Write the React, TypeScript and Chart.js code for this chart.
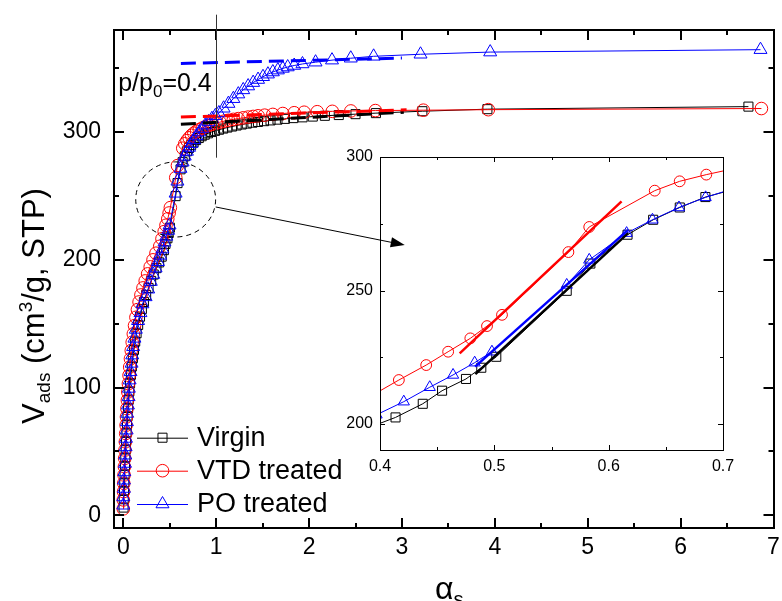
import React, { useEffect, useRef } from 'react';
import { Chart, registerables } from 'chart.js';

Chart.register(...registerables);

const FONT = "'Liberation Sans', Arial, Helvetica, sans-serif";

// ---- Virgin (black squares) ----
const virginAlpha = [
  0.003, 0.005, 0.008, 0.011, 0.014, 0.018, 0.022, 0.026, 0.03, 0.035,
  0.04, 0.046, 0.052, 0.058, 0.065, 0.073, 0.082, 0.092, 0.103, 0.115,
  0.128, 0.143, 0.16, 0.18, 0.2, 0.222, 0.246, 0.272, 0.3, 0.328,
  0.357, 0.386,
  0.4136, 0.4374, 0.4543, 0.4752, 0.4886, 0.5017, 0.5633, 0.584, 0.6165, 0.6389, 0.6622, 0.6846,
  0.707, 0.731, 0.757, 0.784, 0.813, 0.844, 0.877, 0.912, 0.949, 0.988,
  1.03, 1.075, 1.12, 1.17, 1.22, 1.275, 1.33, 1.39, 1.45, 1.515,
  1.585, 1.66, 1.74, 1.83, 1.93, 2.04, 2.17, 2.32, 2.5, 2.72,
  3.22, 3.92, 6.73,
];
const virginV = [
  6, 12.5, 19, 25.5, 32, 38.5, 45, 51.5, 58, 64.5,
  71, 77.5, 84, 90.5, 97, 103.5, 110, 116.5, 123, 129.5,
  136, 142.5, 149, 155.5, 161.5, 167, 172.5, 178, 183.5, 188.5,
  193.5, 198,
  202.5, 207.6, 212.5, 216.9, 221.1, 225.2, 249.9, 260.1, 270.9, 276.5, 281.1, 285.0,
  287.6, 289.9, 292, 293.8, 295.4, 296.8, 298, 299.1, 300.1, 301,
  301.9, 302.8, 303.6, 304.4, 305.2, 306, 306.7, 307.4, 308, 308.6,
  309.2, 309.8, 310.4, 311, 311.6, 312.2, 312.8, 313.4, 314.1, 314.9,
  316.4, 318, 320,
];

// ---- VTD treated (red circles) ----
const vtdAlpha = [
  0, 0, 0.003, 0.005, 0.008, 0.012, 0.015, 0.018, 0.022, 0.026,
  0.03, 0.034, 0.039, 0.044, 0.049, 0.055, 0.062, 0.069, 0.077, 0.086,
  0.096, 0.108, 0.121, 0.136, 0.152, 0.17, 0.19, 0.212, 0.236, 0.262,
  0.29, 0.32, 0.352, 0.3925, 0.4165, 0.4404, 0.4596, 0.479, 0.4936, 0.5067,
  0.5648, 0.583, 0.6403, 0.6621, 0.6854, 0.709, 0.734, 0.76, 0.788, 0.818,
  0.85, 0.884, 0.92, 0.958, 0.998, 1.04, 1.085, 1.132, 1.185, 1.238,
  1.291, 1.344, 1.398, 1.451, 1.522, 1.61, 1.717, 1.84, 1.947, 2.088,
  2.25, 2.45, 2.714, 3.23, 3.93, 6.87,
];
const vtdV = [
  5, 12, 18.5, 25, 31.5, 38, 44.5, 51, 57.5, 64,
  70.5, 77, 83.5, 90, 96.5, 103, 109.5, 116, 122.5, 129,
  135.5, 142, 148.5, 155, 161, 167, 172.5, 178, 183.5, 189,
  194.5, 200, 205.2, 210.6, 216.5, 222.1, 227.1, 232.1, 236.7, 240.9,
  264.4, 273.8, 287.4, 290.9, 293.4, 295.6, 297.5, 299.2, 300.7, 302,
  303.2, 304.3, 305.3, 306.2, 307, 307.8, 308.6, 309.3, 310, 310.6,
  311.2, 311.8, 312.3, 312.8, 313.3, 313.9, 314.6, 315.2, 315.6, 316,
  316.3, 316.6, 316.9, 317.2, 317.6, 318.5,
];

// ---- PO treated (blue triangles) ----
const poAlpha = [
  0, 0, 0.007, 0.007, 0.011, 0.018, 0.021, 0.025, 0.029, 0.036,
  0.039, 0.042, 0.05, 0.057, 0.06, 0.068, 0.078, 0.089, 0.096, 0.106,
  0.12, 0.135, 0.159, 0.185, 0.206, 0.24, 0.268, 0.296, 0.322, 0.348,
  0.373, 0.397, 0.4208, 0.4435, 0.4639, 0.4828, 0.4979, 0.5633, 0.583, 0.6157,
  0.6383, 0.6615, 0.6848, 0.708, 0.733, 0.76, 0.788, 0.818, 0.85, 0.883,
  0.918, 0.954, 0.991, 1.029, 1.08, 1.132, 1.185, 1.238, 1.291, 1.344,
  1.398, 1.451, 1.504, 1.557, 1.61, 1.664, 1.717, 1.77, 1.84, 1.929,
  2.07, 2.247, 2.449, 2.695, 3.2, 3.95, 6.86,
];
const poV = [
  7.8, 14.3, 20.9, 27.4, 33.9, 40.5, 47.0, 53.5, 60.1, 66.6,
  73.1, 79.7, 86.2, 92.7, 99.3, 105.8, 112.3, 118.9, 125.4, 131.9,
  138.5, 145.5, 152.3, 158.5, 165.4, 171, 177, 183, 188.5, 193.5,
  198.5, 203.5, 208.4, 213.8, 218.4, 223.0, 227.1, 252.1, 261.5, 271.5,
  276.5, 281.1, 284.9, 288, 291, 294, 297, 300, 302.8, 305.5,
  308, 310.5, 312.8, 315, 318.7, 322.4, 326.2, 329.8, 333.1, 336.1,
  338.8, 341.2, 343.4, 345.4, 347.1, 348.6, 349.9, 351, 352.2, 353.4,
  354.8, 356.4, 357.9, 359.4, 361, 362.7, 364.6,
];

// ---- linear fits shown in the inset ----
const virginFitAlpha = [0.4834, 0.617];
const virginFitV = [218.7, 271.5];
const vtdFitAlpha = [0.4697, 0.6113];
const vtdFitV = [226.5, 283.4];
const poFitAlpha = [0.4832, 0.617];
const poFitV = [221.5, 272.7];

// ---- plateau extrapolations (dashed) ----
const virginPlateauAlpha = [0.62, 3.02];
const virginPlateauV = [306.2, 315.6];
const vtdPlateauAlpha = [0.62, 3.05];
const vtdPlateauV = [311.8, 317.5];
const poPlateauAlpha = [0.62, 3.0];
const poPlateauV = [353.8, 358.0];

// ---- ticks ----
const xTicks = [0, 1, 2, 3, 4, 5, 6, 7];
const xMinorTicks = [0.5, 1.5, 2.5, 3.5, 4.5, 5.5, 6.5];
const yTicks = [0, 100, 200, 300];
const yMinorTicks = [50, 150, 250, 350];
const insetXTicks = [0.4, 0.5, 0.6, 0.7];
const insetXMinorTicks = [0.45, 0.55, 0.65];
const insetYTicks = [200, 250, 300];
const insetYMinorTicks = [225, 275];

const seriesLabels = ['Virgin', 'VTD treated', 'PO treated'];
const seriesColors = ['#000000', '#ff0000', '#0000ff'];
const seriesStyles = ['rect', 'circle', 'triangle'];

// reference annotations (data coordinates)
const refLineAlpha = 1;
const refLineV = [280, 392];

const pts = (xs: number[], ys: number[]) => xs.map((x, i) => ({ x, y: ys[i] }));

function drawMarker(ctx: CanvasRenderingContext2D, style: string, x: number, y: number, r: number) {
  ctx.beginPath();
  if (style === 'rect') {
    const s = r * Math.SQRT1_2;
    ctx.rect(x - s, y - s, 2 * s, 2 * s);
  } else if (style === 'circle') {
    ctx.arc(x, y, r, 0, Math.PI * 2);
  } else {
    for (let k = 0; k < 3; k++) {
      const a = -Math.PI / 2 + (k * 2 * Math.PI) / 3;
      const px = x + Math.cos(a) * r;
      const py = y + Math.sin(a) * r;
      if (k === 0) ctx.moveTo(px, py);
      else ctx.lineTo(px, py);
    }
    ctx.closePath();
  }
  ctx.stroke();
}

function drawFrame(
  chart: any,
  xMaj: number[], xMin: number[], yMaj: number[], yMin: number[],
  majLen: number, minLen: number, lw: number,
) {
  const ctx: CanvasRenderingContext2D = chart.ctx;
  const { left, right, top, bottom } = chart.chartArea;
  const xs = chart.scales.x;
  const ys = chart.scales.y;
  const off = lw % 2 === 1 ? 0.5 : 0;
  ctx.save();
  ctx.strokeStyle = '#000';
  ctx.lineWidth = lw;
  ctx.beginPath();
  const xt = (vals: number[], len: number) => {
    vals.forEach((v) => {
      const p = Math.round(xs.getPixelForValue(v)) + off;
      ctx.moveTo(p, bottom);
      ctx.lineTo(p, bottom - len);
      ctx.moveTo(p, top);
      ctx.lineTo(p, top + len);
    });
  };
  const yt = (vals: number[], len: number) => {
    vals.forEach((v) => {
      const p = Math.round(ys.getPixelForValue(v)) + off;
      ctx.moveTo(left, p);
      ctx.lineTo(left + len, p);
      ctx.moveTo(right, p);
      ctx.lineTo(right - len, p);
    });
  };
  xt(xMaj, majLen);
  xt(xMin, minLen);
  yt(yMaj, majLen);
  yt(yMin, minLen);
  ctx.stroke();
  ctx.strokeRect(Math.round(left) + off, Math.round(top) + off, Math.round(right - left), Math.round(bottom - top));
  ctx.restore();
}

function drawRich(ctx: CanvasRenderingContext2D, parts: { t: string; s: number; dy: number }[], x: number, y: number, center: boolean) {
  let total = 0;
  parts.forEach((p) => {
    ctx.font = `${p.s}px ${FONT}`;
    total += ctx.measureText(p.t).width;
  });
  let cx = center ? x - total / 2 : x;
  parts.forEach((p) => {
    ctx.font = `${p.s}px ${FONT}`;
    ctx.fillText(p.t, cx, y + p.dy);
    cx += ctx.measureText(p.t).width;
  });
}

const mainDecor = {
  id: 'mainDecor',
  afterDraw(chart: any) {
    const ctx: CanvasRenderingContext2D = chart.ctx;
    const xs = chart.scales.x;
    const ys = chart.scales.y;
    const ca = chart.chartArea;
    drawFrame(chart, xTicks, xMinorTicks, yTicks, yMinorTicks, 10, 5, 2);

    ctx.save();
    // vertical reference line at alpha_s = 1 (p/p0 = 0.4)
    const rx = Math.round(xs.getPixelForValue(refLineAlpha)) + 0.5;
    ctx.strokeStyle = '#333';
    ctx.lineWidth = 1;
    ctx.beginPath();
    ctx.moveTo(rx, ys.getPixelForValue(refLineV[1]));
    ctx.lineTo(rx, ys.getPixelForValue(refLineV[0]));
    ctx.stroke();

    // p/p0=0.4 label
    ctx.fillStyle = '#000';
    ctx.textBaseline = 'alphabetic';
    ctx.textAlign = 'left';
    drawRich(ctx, [
      { t: 'p/p', s: 25, dy: 0 },
      { t: '0', s: 17, dy: 6 },
      { t: '=0.4', s: 25, dy: 0 },
    ], xs.getPixelForValue(-0.055), ys.getPixelForValue(332), false);

    // dashed zoom ellipse
    const ex = xs.getPixelForValue(0.564);
    const ey = ys.getPixelForValue(247.3);
    const erx = xs.getPixelForValue(0.564 + 0.43) - ex;
    const ery = ey - ys.getPixelForValue(247.3 + 29.4);
    ctx.setLineDash([5, 4]);
    ctx.strokeStyle = '#000';
    ctx.lineWidth = 1;
    ctx.beginPath();
    ctx.ellipse(ex, ey, erx, ery, 0, 0, Math.PI * 2);
    ctx.stroke();
    ctx.setLineDash([]);

    // arrow to inset
    const ax1 = xs.getPixelForValue(0.995);
    const ay1 = ys.getPixelForValue(241.4);
    const ax2 = xs.getPixelForValue(3.03);
    const ay2 = ys.getPixelForValue(211.6);
    const ang = Math.atan2(ay2 - ay1, ax2 - ax1);
    const hl = 14;
    const hw = 5;
    const bx = ax2 - Math.cos(ang) * hl;
    const by = ay2 - Math.sin(ang) * hl;
    ctx.beginPath();
    ctx.moveTo(ax1, ay1);
    ctx.lineTo(bx, by);
    ctx.stroke();
    ctx.beginPath();
    ctx.moveTo(ax2, ay2);
    ctx.lineTo(bx - Math.sin(ang) * hw, by + Math.cos(ang) * hw);
    ctx.lineTo(bx + Math.sin(ang) * hw, by - Math.cos(ang) * hw);
    ctx.closePath();
    ctx.fillStyle = '#000';
    ctx.fill();

    // legend
    const rows = [ca.bottom - 90.3, ca.bottom - 57.3, ca.bottom - 24];
    const radii = [6.4, 6.3, 7.5];
    rows.forEach((ry, i) => {
      ctx.strokeStyle = seriesColors[i];
      ctx.lineWidth = 1;
      ctx.beginPath();
      ctx.moveTo(ca.left + 23, ry + 0.5);
      ctx.lineTo(ca.left + 74, ry + 0.5);
      ctx.stroke();
      drawMarker(ctx, seriesStyles[i], ca.left + 48.5, ry, radii[i]);
      ctx.fillStyle = '#000';
      ctx.font = `27px ${FONT}`;
      ctx.textBaseline = 'middle';
      ctx.fillText(seriesLabels[i], ca.left + 83, ry + 1);
    });

    // y axis title
    ctx.save();
    ctx.translate(44, 306);
    ctx.rotate(-Math.PI / 2);
    ctx.textBaseline = 'alphabetic';
    ctx.fillStyle = '#000';
    drawRich(ctx, [
      { t: 'V', s: 31, dy: 0 },
      { t: 'ads', s: 19, dy: 6 },
      { t: ' (cm', s: 31, dy: 0 },
      { t: '3', s: 19, dy: -12 },
      { t: '/g, STP)', s: 31, dy: 0 },
    ], 0, 0, true);
    ctx.restore();

    // x axis title
    ctx.textBaseline = 'alphabetic';
    ctx.fillStyle = '#000';
    drawRich(ctx, [
      { t: 'α', s: 32, dy: 0 },
      { t: 's', s: 20, dy: 7 },
    ], 435, 599, false);

    ctx.restore();
  },
};

const insetDecor = {
  id: 'insetDecor',
  afterDraw(chart: any) {
    drawFrame(chart, insetXTicks, insetXMinorTicks, insetYTicks, insetYMinorTicks, 5, 3, 1);
  },
};

function seriesDataset(i: number, xs: number[], ys: number[], r: number) {
  return {
    label: seriesLabels[i],
    data: pts(xs, ys),
    showLine: true,
    borderColor: seriesColors[i],
    borderWidth: 1,
    backgroundColor: 'rgba(0,0,0,0)',
    pointStyle: seriesStyles[i],
    pointRadius: r,
    pointBorderColor: seriesColors[i],
    pointBackgroundColor: 'rgba(0,0,0,0)',
    pointBorderWidth: 1,
  };
}

function lineDataset(color: string, xs: number[], ys: number[], width: number, dash: number[]) {
  return {
    data: pts(xs, ys),
    showLine: true,
    borderColor: color,
    borderWidth: width,
    borderDash: dash,
    pointRadius: 0,
    backgroundColor: 'rgba(0,0,0,0)',
  };
}

export default function App() {
  const mainRef = useRef<HTMLCanvasElement>(null);
  const insetRef = useRef<HTMLCanvasElement>(null);

  useEffect(() => {
    const main = new Chart(mainRef.current as HTMLCanvasElement, {
      type: 'scatter',
      data: {
        datasets: [
          lineDataset('#0000ff', poPlateauAlpha, poPlateauV, 3, [15, 7]),
          lineDataset('#ff0000', vtdPlateauAlpha, vtdPlateauV, 3, [15, 7]),
          lineDataset('#000000', virginPlateauAlpha, virginPlateauV, 3, [15, 7]),
          seriesDataset(2, poAlpha, poV, 7.5),
          seriesDataset(1, vtdAlpha, vtdV, 6.3),
          seriesDataset(0, virginAlpha, virginV, 6.4),
        ] as any,
      },
      options: {
        responsive: false,
        animation: false,
        devicePixelRatio: 1,
        events: [],
        layout: { padding: { top: 30, right: 1, left: 0, bottom: 0 } },
        plugins: { legend: { display: false }, tooltip: { enabled: false } },
        scales: {
          x: {
            type: 'linear',
            min: -0.1,
            max: 7,
            afterBuildTicks: (s: any) => { s.ticks = xTicks.map((v) => ({ value: v })); },
            afterFit: (s: any) => { s.height = 73; s.paddingLeft = 0; s.paddingRight = 0; },
            grid: { display: false, drawTicks: false },
            border: { display: false },
            ticks: {
              autoSkip: false,
              maxRotation: 0,
              padding: 6,
              color: '#000',
              font: { family: FONT, size: 23 },
              callback: (v: any) => String(v),
            },
          },
          y: {
            type: 'linear',
            min: -10,
            max: 380,
            afterBuildTicks: (s: any) => { s.ticks = yTicks.map((v) => ({ value: v })); },
            afterFit: (s: any) => { s.width = 114; s.paddingTop = 0; s.paddingBottom = 0; },
            grid: { display: false, drawTicks: false },
            border: { display: false },
            ticks: {
              autoSkip: false,
              padding: 13,
              color: '#000',
              font: { family: FONT, size: 23 },
              callback: (v: any) => String(v),
            },
          },
        },
      } as any,
      plugins: [mainDecor],
    });

    const inset = new Chart(insetRef.current as HTMLCanvasElement, {
      type: 'scatter',
      data: {
        datasets: [
          lineDataset('#ff0000', vtdFitAlpha, vtdFitV, 2.5, []),
          lineDataset('#0000ff', poFitAlpha, poFitV, 2.5, []),
          lineDataset('#000000', virginFitAlpha, virginFitV, 2.5, []),
          seriesDataset(2, poAlpha, poV, 6.5),
          seriesDataset(1, vtdAlpha, vtdV, 5.4),
          seriesDataset(0, virginAlpha, virginV, 6.4),
        ] as any,
      },
      options: {
        responsive: false,
        animation: false,
        devicePixelRatio: 1,
        events: [],
        layout: { padding: { top: 17, right: 27, left: 0, bottom: 0 } },
        plugins: { legend: { display: false }, tooltip: { enabled: false } },
        scales: {
          x: {
            type: 'linear',
            min: 0.4,
            max: 0.7,
            afterBuildTicks: (s: any) => { s.ticks = insetXTicks.map((v) => ({ value: v })); },
            afterFit: (s: any) => { s.height = 30; s.paddingLeft = 0; s.paddingRight = 0; },
            grid: { display: false, drawTicks: false },
            border: { display: false },
            ticks: {
              autoSkip: false,
              maxRotation: 0,
              padding: 7,
              color: '#000',
              font: { family: FONT, size: 16 },
              callback: (v: any) => Number(v).toFixed(1),
            },
          },
          y: {
            type: 'linear',
            min: 190.3,
            max: 300,
            afterBuildTicks: (s: any) => { s.ticks = insetYTicks.map((v) => ({ value: v })); },
            afterFit: (s: any) => { s.width = 50; s.paddingTop = 0; s.paddingBottom = 0; },
            grid: { display: false, drawTicks: false },
            border: { display: false },
            ticks: {
              autoSkip: false,
              padding: 7,
              color: '#000',
              font: { family: FONT, size: 16 },
              callback: (v: any) => String(v),
            },
          },
        },
      } as any,
      plugins: [insetDecor],
    });

    return () => {
      main.destroy();
      inset.destroy();
    };
  }, []);

  return (
    <div style={{ position: 'fixed', left: 0, top: 0, width: 782, height: 601, background: '#ffffff', overflow: 'hidden' }}>
      <canvas ref={mainRef} width={782} height={601} style={{ position: 'absolute', left: 0, top: 0, width: 782, height: 601 }} />
      <canvas ref={insetRef} width={420} height={340} style={{ position: 'absolute', left: 330, top: 140, width: 420, height: 340 }} />
    </div>
  );
}
